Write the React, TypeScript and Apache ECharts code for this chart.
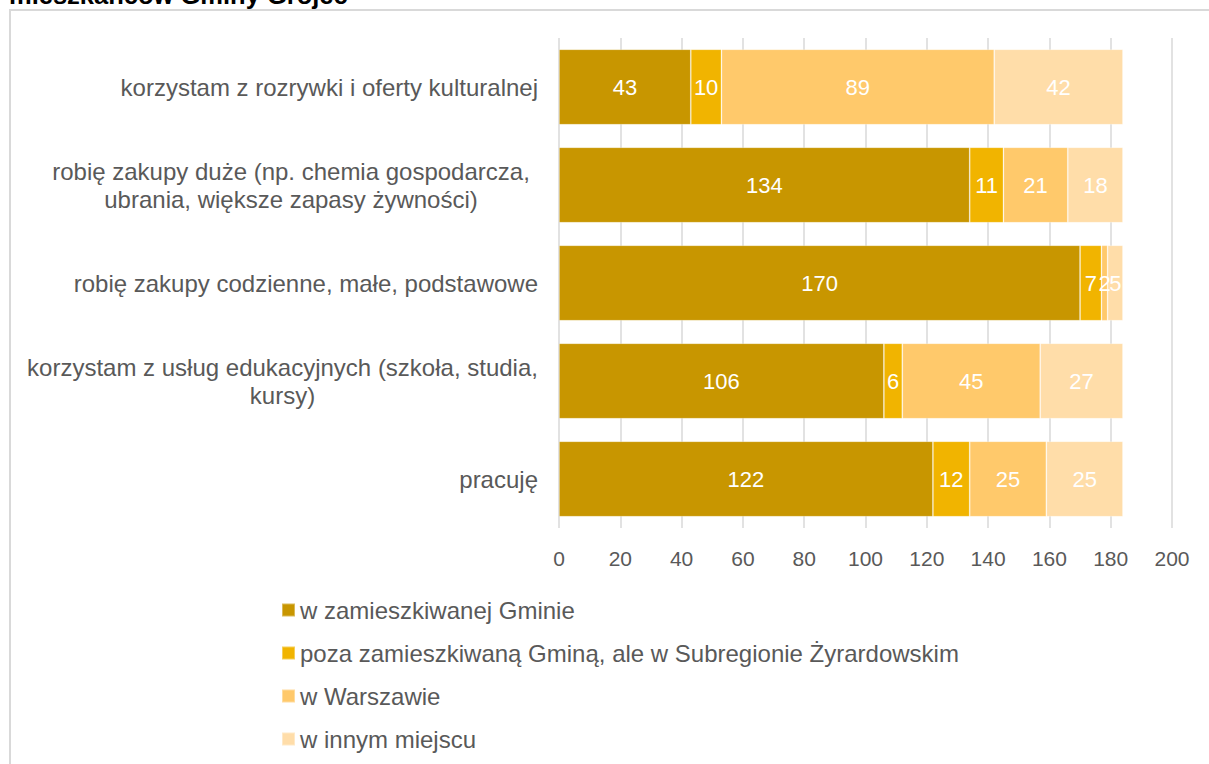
import React, { useEffect, useRef } from "react";
import * as echarts from "echarts";

const categories = [
  "korzystam z rozrywki i oferty kulturalnej",
  "robię zakupy duże (np. chemia gospodarcza,\nubrania, większe zapasy żywności)",
  "robię zakupy codzienne, małe, podstawowe",
  "korzystam z usług edukacyjnych (szkoła, studia,\nkursy)",
  "pracuję",
];
const seriesNames = [
  "w zamieszkiwanej Gminie",
  "poza zamieszkiwaną Gminą, ale w Subregionie Żyrardowskim",
  "w Warszawie",
  "w innym miejscu",
];
const inGmina = [43, 134, 170, 106, 122];
const subregion = [10, 11, 7, 6, 12];
const warszawa = [89, 21, 2, 45, 25];
const inne = [42, 18, 5, 27, 25];
const xTicks = { min: 0, max: 200, interval: 20 };
const colors = ["#C89600", "#F1B400", "#FFC96B", "#FFDDA9"];
const titleText = "mieszkańców Gminy Grójec";

const FONT = "'Liberation Sans', Arial, sans-serif";
const GREY = "#595959";

export default function App() {
  const ref = useRef<HTMLDivElement>(null);
  useEffect(() => {
    if (!ref.current) return;
    const chart = echarts.init(ref.current, undefined, { renderer: "svg" });
    const values = [inGmina, subregion, warszawa, inne];
    const series = values.map((d, i) => ({
      name: seriesNames[i],
      type: "bar",
      stack: "total",
      data: d,
      barCategoryGap: "23%",
      itemStyle: { color: colors[i], borderColor: "rgba(255,255,255,0.35)", borderWidth: 0.8 },
      label: {
        show: true,
        position: "inside",
        color: "#ffffff",
        fontFamily: FONT,
        fontSize: 22,
      },
    }));
    chart.setOption({
      animation: false,
      textStyle: { fontFamily: FONT },
      grid: { left: 559, right: 37, top: 38, bottom: 236, containLabel: false },
      xAxis: {
        type: "value",
        min: xTicks.min,
        max: xTicks.max,
        interval: xTicks.interval,
        axisLine: { show: false },
        axisTick: { show: false },
        splitLine: { show: true, lineStyle: { color: "#D9D9D9", width: 1.5 } },
        axisLabel: { color: GREY, fontSize: 21, fontFamily: FONT, margin: 20 },
      },
      yAxis: {
        type: "category",
        inverse: true,
        data: categories,
        axisLine: { show: false },
        axisTick: { show: false },
        axisLabel: {
          color: GREY,
          fontSize: 24,
          fontFamily: FONT,
          margin: 21,
          lineHeight: 28,
          formatter: (v: string, idx: number) => {
            if (v.indexOf("\n") < 0) return v;
            const key = idx === 1 ? "a" : "b";
            return v
              .split("\n")
              .map((l) => `{${key}|${l}}`)
              .join("\n");
          },
          rich: {
            a: { width: 494, align: "center", color: GREY, fontSize: 24, fontFamily: FONT, lineHeight: 28 },
            b: { width: 511, align: "center", color: GREY, fontSize: 24, fontFamily: FONT, lineHeight: 28 },
          },
        },
      },
      legend: {
        orient: "vertical",
        left: 276,
        top: 593,
        itemWidth: 13,
        itemHeight: 13,
        itemGap: 19,
        icon: "rect",
        textStyle: { color: GREY, fontSize: 24, fontFamily: FONT },
        data: seriesNames,
      },
      graphic: [
        {
          type: "rect",
          shape: { x: 10, y: 10, width: 1230, height: 800 },
          style: { fill: "none", stroke: "#D9D9D9", lineWidth: 2 },
          silent: true,
          z: -1,
        },
        {
          type: "text",
          x: 9,
          y: -5,
          style: {
            text: titleText,
            fill: "#000000",
            font: `bold 25.5px ${FONT}`,
            verticalAlign: "middle",
            align: "left",
          },
        },
      ],
      series,
    });
    return () => chart.dispose();
  }, []);
  return (
    <div
      ref={ref}
      style={{ position: "fixed", left: 0, top: 0, width: 1209, height: 764, background: "#fff" }}
    />
  );
}
